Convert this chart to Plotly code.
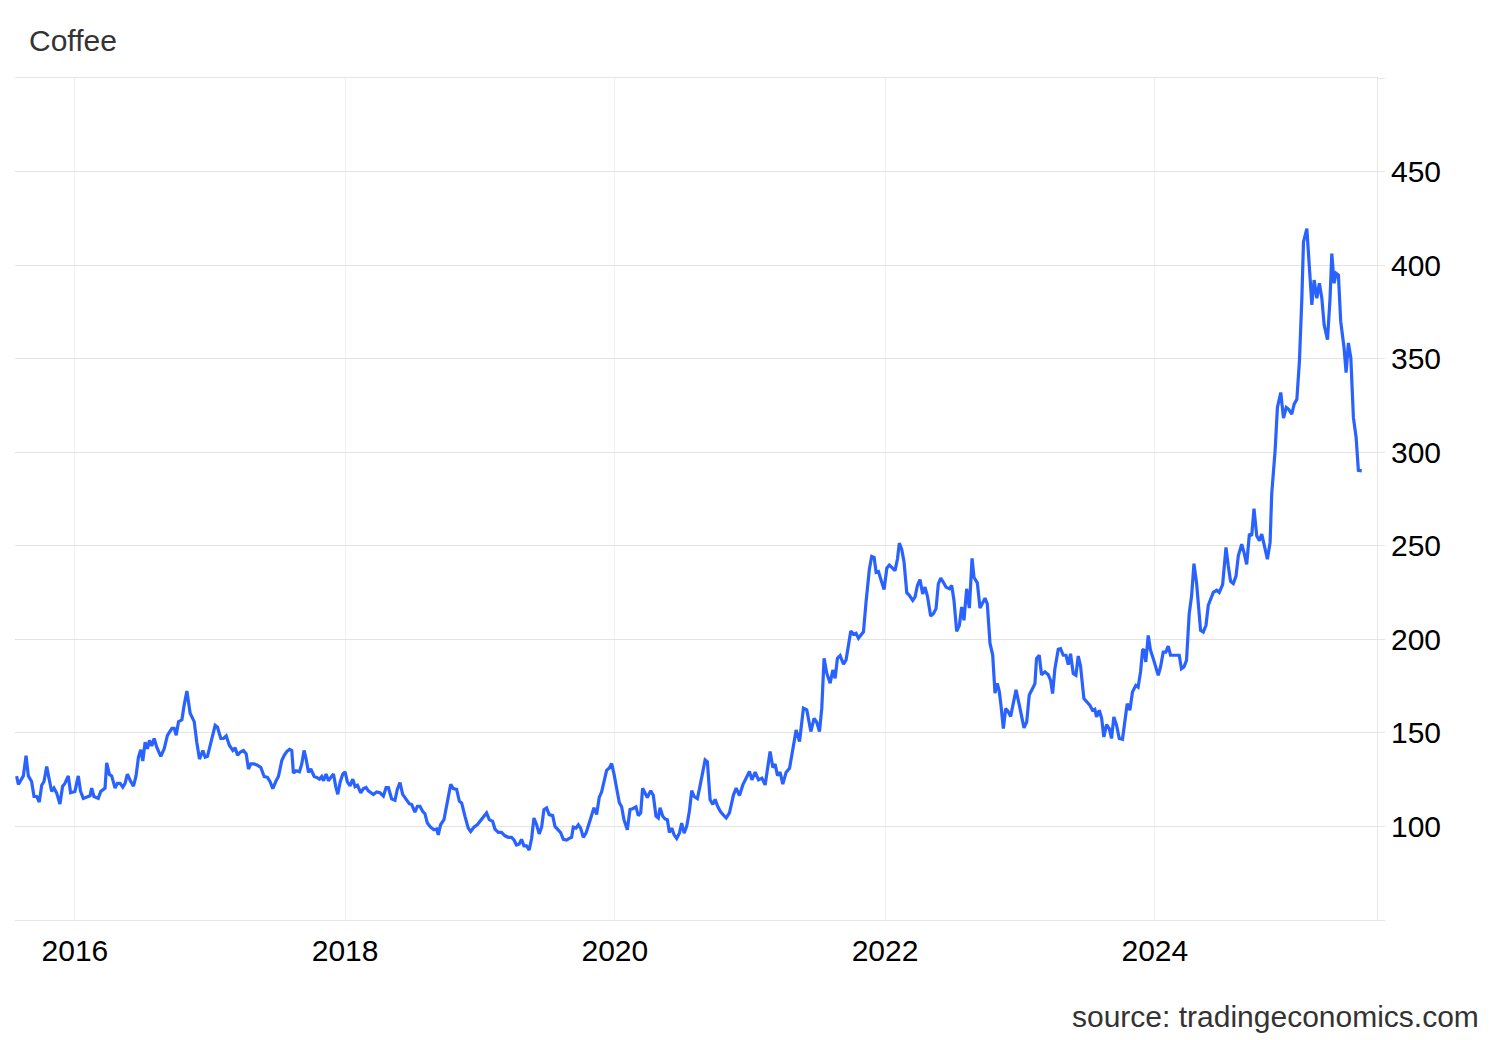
import plotly.graph_objects as go
import pandas as pd

title_text = "Coffee"
source_text = "source: tradingeconomics.com"

# time as decimal years, price in USd/lb
t = [2015.568, 2015.581, 2015.618, 2015.638, 2015.655, 2015.679, 2015.697, 2015.717, 2015.736, 2015.754,
     2015.771, 2015.791, 2015.810, 2015.828, 2015.845, 2015.865, 2015.889, 2015.909, 2015.926, 2015.951,
     2015.968, 2016.000, 2016.025, 2016.042, 2016.062, 2016.092, 2016.112, 2016.124, 2016.141, 2016.173,
     2016.191, 2016.223, 2016.235, 2016.255, 2016.272, 2016.297, 2016.314, 2016.334, 2016.354, 2016.371,
     2016.388, 2016.413, 2016.433, 2016.452, 2016.470, 2016.487, 2016.502, 2016.519, 2016.536, 2016.551,
     2016.568, 2016.586, 2016.605, 2016.635, 2016.660, 2016.684, 2016.717, 2016.734, 2016.749, 2016.766,
     2016.791, 2016.808, 2016.828, 2016.852,
     2016.882, 2016.901, 2016.921, 2016.946, 2016.963, 2016.980, 2017.000, 2017.020, 2017.037, 2017.054,
     2017.079, 2017.099, 2017.119, 2017.143, 2017.168, 2017.185, 2017.203, 2017.222, 2017.247, 2017.267,
     2017.284, 2017.301, 2017.326, 2017.346, 2017.375, 2017.400, 2017.425, 2017.445, 2017.464, 2017.489,
     2017.506, 2017.531, 2017.548, 2017.568, 2017.588, 2017.605, 2017.617, 2017.637, 2017.662, 2017.679,
     2017.696, 2017.711, 2017.729, 2017.746, 2017.771, 2017.790, 2017.810, 2017.827, 2017.840, 2017.859,
     2017.877, 2017.894, 2017.914, 2017.931, 2017.946, 2017.963, 2017.983, 2018.000, 2018.017, 2018.037,
     2018.057, 2018.074, 2018.092, 2018.116, 2018.136, 2018.156, 2018.173,
     2018.210, 2018.234, 2018.259, 2018.284, 2018.304, 2018.321, 2018.345, 2018.370, 2018.387, 2018.407,
     2018.427, 2018.452, 2018.476, 2018.494, 2018.518, 2018.536, 2018.555, 2018.575, 2018.592, 2018.610,
     2018.634, 2018.659, 2018.679, 2018.691, 2018.708, 2018.733, 2018.758, 2018.783, 2018.802, 2018.827,
     2018.847, 2018.864, 2018.889, 2018.913, 2018.931, 2018.955, 2018.980, 2019.000, 2019.025, 2019.049,
     2019.069, 2019.094, 2019.111, 2019.136, 2019.160, 2019.185, 2019.210, 2019.234, 2019.252, 2019.271,
     2019.291, 2019.308, 2019.326, 2019.345, 2019.365, 2019.383, 2019.400, 2019.420, 2019.439, 2019.457,
     2019.474, 2019.494, 2019.513,
     2019.539, 2019.556, 2019.581, 2019.598, 2019.618, 2019.642, 2019.662, 2019.679, 2019.692, 2019.712,
     2019.729, 2019.746, 2019.766, 2019.786, 2019.810, 2019.828, 2019.845, 2019.865, 2019.884, 2019.902,
     2019.919, 2019.939, 2019.959, 2019.976, 2019.993, 2020.013, 2020.033, 2020.050, 2020.067, 2020.092,
     2020.112, 2020.131, 2020.156, 2020.173, 2020.191, 2020.205, 2020.223, 2020.240, 2020.265, 2020.284,
     2020.304, 2020.321, 2020.334, 2020.354, 2020.371, 2020.388, 2020.403, 2020.420, 2020.438, 2020.457,
     2020.477, 2020.494, 2020.512, 2020.531, 2020.551, 2020.568, 2020.586, 2020.610, 2020.630, 2020.650,
     2020.667, 2020.684, 2020.704, 2020.724, 2020.741, 2020.759, 2020.778, 2020.798, 2020.823, 2020.847,
     2020.877, 2020.897, 2020.921, 2020.946, 2020.971, 2020.995, 2021.013, 2021.037, 2021.062, 2021.087,
     2021.111, 2021.129, 2021.148, 2021.168, 2021.185, 2021.203, 2021.222, 2021.242, 2021.267, 2021.292,
     2021.316, 2021.341, 2021.366, 2021.395, 2021.420, 2021.450, 2021.474, 2021.494, 2021.514, 2021.531,
     2021.548, 2021.568, 2021.593, 2021.613, 2021.630, 2021.647, 2021.667, 2021.692, 2021.711, 2021.729,
     2021.746, 2021.766, 2021.785, 2021.803,
     2021.840, 2021.859, 2021.884, 2021.901, 2021.919, 2021.934, 2021.951, 2021.968, 2021.993, 2022.013,
     2022.032, 2022.050, 2022.074, 2022.092, 2022.106, 2022.124, 2022.141, 2022.161, 2022.180, 2022.205,
     2022.222, 2022.240, 2022.259, 2022.279, 2022.296, 2022.314, 2022.338, 2022.358, 2022.378, 2022.395,
     2022.413, 2022.432, 2022.452, 2022.477, 2022.494, 2022.511, 2022.531, 2022.551, 2022.568, 2022.585,
     2022.605, 2022.625, 2022.645, 2022.659, 2022.684, 2022.704, 2022.724, 2022.741, 2022.758, 2022.778,
     2022.798, 2022.815, 2022.832, 2022.847, 2022.859, 2022.877, 2022.894, 2022.909, 2022.931, 2022.951,
     2022.971, 2022.995, 2023.013, 2023.030, 2023.050, 2023.069,
     2023.099, 2023.111, 2023.123, 2023.143, 2023.160, 2023.185, 2023.210, 2023.227, 2023.242, 2023.259,
     2023.284, 2023.301, 2023.321, 2023.341, 2023.358, 2023.375, 2023.395, 2023.415, 2023.432, 2023.449,
     2023.474, 2023.499, 2023.518, 2023.538, 2023.555, 2023.568, 2023.588, 2023.605, 2023.622, 2023.642,
     2023.662, 2023.679, 2023.696, 2023.716, 2023.736, 2023.760, 2023.778, 2023.795, 2023.815, 2023.834,
     2023.859, 2023.876, 2023.894, 2023.909, 2023.918, 2023.933, 2023.951, 2023.968, 2023.988, 2024.007,
     2024.025, 2024.042, 2024.062, 2024.081, 2024.099, 2024.116, 2024.136, 2024.155, 2024.180, 2024.197,
     2024.215, 2024.234, 2024.254, 2024.272, 2024.289, 2024.309, 2024.328, 2024.338, 2024.358, 2024.378,
     2024.395,
     2024.412, 2024.432, 2024.457, 2024.476, 2024.501, 2024.526, 2024.543, 2024.560, 2024.580, 2024.600,
     2024.617, 2024.642, 2024.659, 2024.679, 2024.699, 2024.716, 2024.733, 2024.753, 2024.773, 2024.790,
     2024.807, 2024.832, 2024.852,
     2024.864, 2024.889, 2024.906, 2024.931, 2024.951, 2024.971, 2024.988, 2025.012, 2025.030, 2025.050,
     2025.069, 2025.087, 2025.099, 2025.124, 2025.143, 2025.161, 2025.178, 2025.198, 2025.217, 2025.235,
     2025.252, 2025.277, 2025.296, 2025.309, 2025.326, 2025.341, 2025.358, 2025.375, 2025.400, 2025.415,
     2025.432, 2025.450, 2025.469, 2025.489, 2025.506, 2025.531]

v = [126.9, 122.4, 127.0, 137.8, 127.0, 124.0, 116.0, 116.0, 113.0, 122.0,
     124.0, 132.0, 125.0, 118.7, 120.5, 117.8, 112.0, 121.5, 123.0, 127.0,
     118.0, 118.7, 127.0, 118.7, 115.0, 116.0, 116.4, 120.5, 116.0, 115.0,
     118.7, 120.5, 134.0, 127.8, 127.0, 120.5, 123.0, 123.0, 121.0, 123.0,
     128.0, 124.0, 121.5, 127.0, 137.0, 141.0, 135.0, 145.0, 141.5, 146.0,
     143.0, 147.0, 142.4, 137.5, 141.5, 148.7, 152.4, 152.4, 148.7, 156.0,
     157.0, 165.0, 172.4, 160.5,
     156.0, 145.0, 136.0, 140.6, 137.0, 137.5, 143.3, 150.5, 154.0, 153.0,
     147.0, 147.0, 148.4, 143.3, 140.6, 142.0, 138.0, 139.7, 140.6, 138.8,
     130.7, 133.4, 133.4, 132.9, 131.6, 126.7, 126.2, 123.8, 120.2, 124.4,
     126.7, 135.2, 137.9, 140.0, 141.2, 140.6, 128.5, 129.8, 129.2, 133.4,
     140.6, 136.1, 128.9, 130.7, 126.7, 126.2, 125.3, 126.7, 124.4, 128.0,
     124.4, 126.2, 128.0, 121.3, 117.2, 123.5, 128.0, 129.2, 123.8, 121.7,
     125.3, 121.3, 122.0, 118.0, 120.2, 120.8, 119.0,
     117.1, 118.4, 118.0, 116.2, 120.7, 120.7, 114.8, 114.0, 119.8, 123.4,
     117.1, 114.4, 112.2, 111.7, 107.6, 110.8, 110.8, 108.1, 106.8, 101.8,
     99.6, 98.2, 98.6, 95.5, 100.9, 103.6, 113.5, 122.5, 120.2, 119.8,
     113.5, 112.6, 105.4, 99.1, 97.3, 99.6, 100.9, 102.7, 104.5, 107.2,
     103.6, 102.7, 98.6, 96.8, 96.8, 95.0, 94.2, 94.2, 92.8, 90.1,
     90.6, 93.1, 89.6, 89.6, 87.4, 93.7, 104.5, 100.9, 96.0, 99.6,
     109.0, 109.9, 106.3,
     105.8, 100.0, 98.2, 96.7, 93.1, 92.7, 93.6, 94.2, 99.6, 99.1,
     100.9, 99.1, 94.2, 96.4, 101.8, 105.5, 110.0, 106.4, 115.5, 118.5,
     123.6, 130.0, 131.3, 133.6, 128.2, 120.9, 112.7, 110.5, 103.6, 98.2,
     109.1, 109.5, 110.5, 105.8, 107.3, 120.4, 117.8, 115.5, 119.1, 116.7,
     105.5, 104.5, 110.0, 105.5, 104.0, 103.6, 96.7, 99.1, 95.5, 93.6,
     96.4, 101.8, 96.4, 100.0, 108.2, 119.1, 116.0, 114.9, 121.8, 129.1,
     135.5, 134.5, 114.2, 111.8, 114.5, 110.9, 108.2, 106.4, 104.5, 107.3,
     116.9, 120.5, 116.5, 122.2, 126.1, 129.4, 124.9, 129.0, 124.9, 125.8,
     122.2, 130.8, 140.0, 131.5, 133.3, 127.2, 129.0, 122.6, 129.0, 131.1,
     140.9, 151.6, 145.4, 163.2, 162.3, 150.7, 157.8, 155.7, 150.7, 163.2,
     189.9, 181.9, 176.5, 183.6, 179.2, 189.9, 191.3, 186.7, 189.0, 197.0,
     204.5, 202.7, 203.2, 200.6,
     204.0, 219.9, 237.6, 244.3, 243.8, 235.8, 236.2, 232.3, 226.6, 238.0,
     239.7, 238.5, 236.7, 242.9, 251.4, 247.9, 241.2, 224.9, 223.5, 220.8,
     222.6, 228.8, 231.9, 224.3, 227.9, 223.1, 212.5, 213.7, 216.4, 229.6,
     232.7, 230.5, 227.9, 227.0, 228.8, 220.8, 204.3, 207.5, 217.3, 210.2,
     227.0, 216.7, 243.3, 233.2, 230.2, 216.7, 219.6, 222.0, 219.0, 197.8,
     191.6, 171.2, 176.5, 172.1, 165.0, 152.3, 162.9, 161.9, 158.8, 165.9,
     173.0, 165.0, 158.0, 152.7, 155.8, 170.3,
     174.5, 176.3, 189.7, 191.5, 181.1, 182.6, 181.1, 178.1, 171.0, 184.3,
     194.7, 195.0, 191.5, 191.5, 186.5, 192.3, 181.7, 180.8, 191.1, 185.8,
     168.3, 166.2, 164.8, 162.1, 162.6, 158.5, 162.1, 158.0, 147.8, 154.4,
     152.3, 147.0, 158.5, 154.1, 147.0, 146.6, 155.9, 165.6, 162.1, 171.9,
     175.4, 174.5, 182.6, 194.1, 194.7, 187.9, 202.1, 194.1, 189.7, 184.3,
     180.8, 185.2, 193.2, 193.2, 196.4, 191.5, 191.5, 191.8, 191.5, 184.3,
     185.2, 188.8, 213.7, 223.5, 240.4, 229.7, 212.8, 204.8, 203.9, 207.5,
     218.2,
     221.0, 225.1, 226.2, 225.1, 229.2, 249.1, 239.2, 231.0, 229.8, 233.8,
     244.6, 250.9, 246.4, 240.1, 256.3, 255.4, 269.9, 255.4, 252.7, 256.3,
     250.9, 242.8, 251.8,
     277.9, 300.9, 323.9, 331.9, 318.2, 323.9, 323.0, 320.4, 325.7, 328.3,
     348.7, 382.3, 412.4, 419.5, 400.0, 378.8, 392.0, 382.3, 390.3, 382.3,
     368.1, 360.2, 382.3, 406.2, 390.3, 395.6, 394.7, 369.9, 355.7, 342.5,
     358.4, 350.4, 318.6, 308.0, 290.3, 290.0]

y_ticks = [50, 100, 150, 200, 250, 300, 350, 400, 450, 500]
y_labels = ["", "100", "150", "200", "250", "300", "350", "400", "450", ""]
x_start, x_end = 2015.556, 2025.644


def dec_to_date(y):
    yr = int(y)
    a = pd.Timestamp(yr, 1, 1)
    b = pd.Timestamp(yr + 1, 1, 1)
    return a + (b - a) * (y - yr)


dates = [dec_to_date(x) for x in t]

fig = go.Figure()
fig.add_trace(go.Scatter(
    x=dates, y=v, mode="lines",
    line=dict(color="#2962ff", width=3.2),
    hoverinfo="x+y", showlegend=False,
))

FONT = "Liberation Sans, Arial, sans-serif"
FS = 30

fig.update_layout(
    width=1500, height=1040,
    margin=dict(l=15, r=123, t=78, b=120),
    paper_bgcolor="white", plot_bgcolor="white",
    font=dict(family=FONT, size=FS, color="#000000"),
    title=dict(text=title_text, x=29 / 1500, xref="container", xanchor="left",
               y=1 - 40 / 1040, yref="container", yanchor="middle",
               font=dict(family=FONT, size=FS, color="#333333")),
    xaxis=dict(
        type="date",
        range=[dec_to_date(x_start), dec_to_date(x_end)],
        tick0="2016-01-01", dtick="M24", tickformat="%Y",
        showgrid=True, gridcolor="#eef1f5", gridwidth=1,
        showline=True, linecolor="#e6e6e6", linewidth=1, mirror=True,
        ticks="outside", ticklen=4, tickcolor="rgba(0,0,0,0)",
        tickfont=dict(family=FONT, size=FS, color="#000000"),
        zeroline=False,
    ),
    yaxis=dict(
        side="right",
        range=[50, 500],
        tickmode="array", tickvals=y_ticks, ticktext=y_labels,
        showgrid=True, gridcolor="#e3e3e3", gridwidth=1,
        showline=True, linecolor="#e6e6e6", linewidth=1,
        ticks="outside", ticklen=7, tickcolor="#e6e6e6",
        tickfont=dict(family=FONT, size=FS, color="#000000"),
        zeroline=False,
    ),
    annotations=[dict(
        text=source_text, xref="paper", yref="paper",
        x=(1481 - 15) / 1362, y=(920 - 1016) / 842,
        xanchor="right", yanchor="middle", showarrow=False,
        font=dict(family=FONT, size=FS, color="#333333"),
    )],
)

fig.write_html("out.html", config={"displayModeBar": False},
               post_script="document.body.style.margin='0';")
